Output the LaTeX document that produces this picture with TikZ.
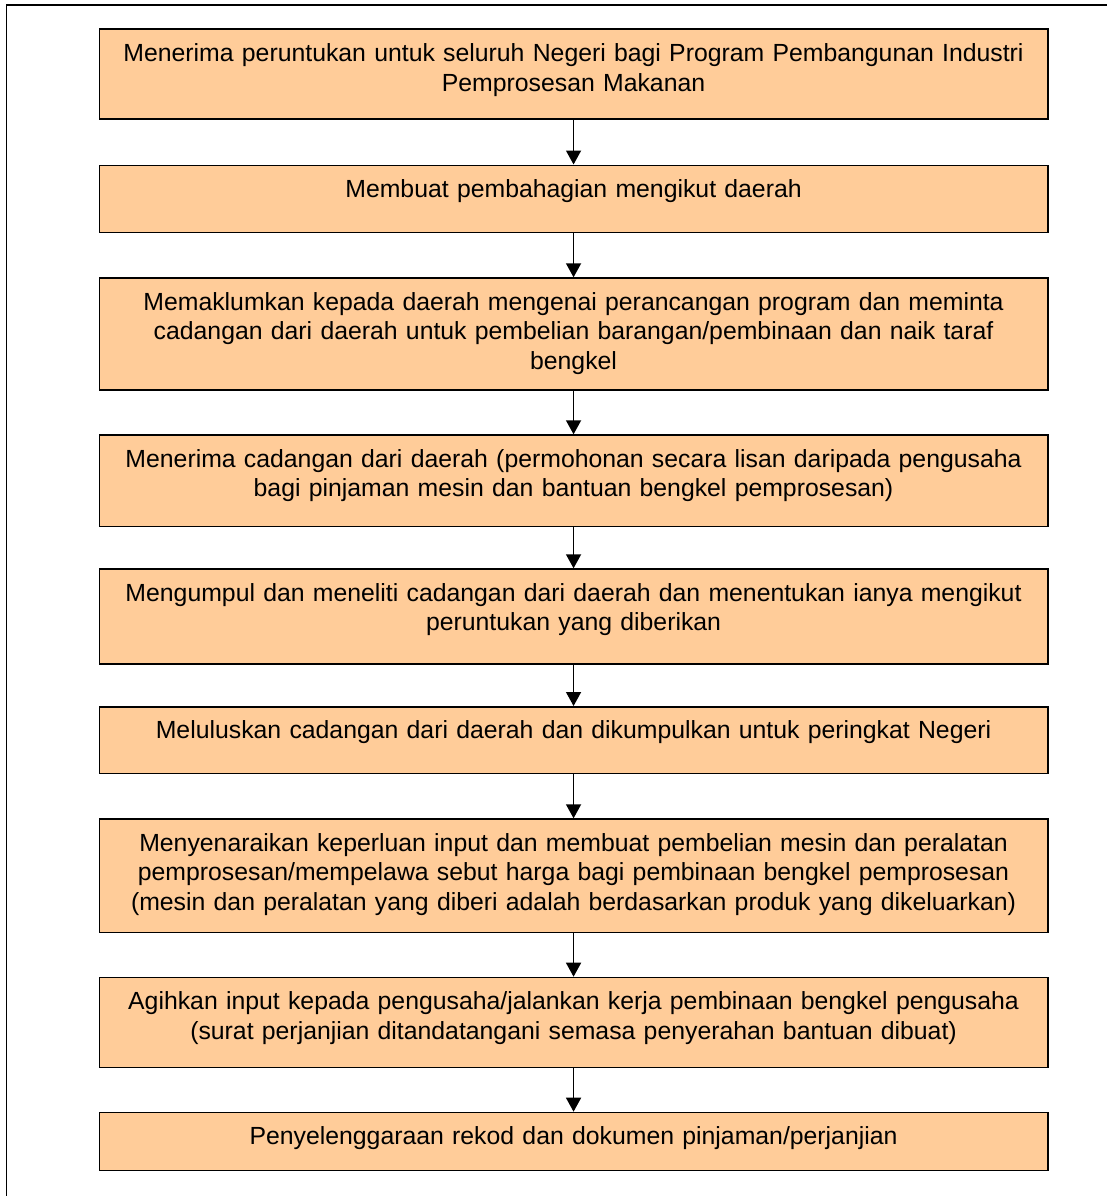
\documentclass[tikz,border=0pt]{standalone}
\usepackage{fontspec}
\setmainfont{Liberation Sans}
\usepackage{xcolor}
\usetikzlibrary{arrows.meta}
\definecolor{peach}{RGB}{255,204,153}

\begin{document}
\begin{tikzpicture}
		[
		x=1pt, y=-1pt,
		font=\fontsize{24.8}{29.8}\selectfont
		]
		
		% Two node styles: box and its text
		\tikzstyle{step box}=[draw, line width=1.6pt, fill=peach, anchor=north west, inner sep=0, minimum width=948.5];
		\tikzstyle{step text}=[anchor=north, yshift=-11.8pt, inner sep=0, text width=930, align=center, execute at begin node=\strut];
		\tikzstyle{flow}=[line width=1.5pt, -{Triangle[width=15pt,length=14pt]}];
		
		\useasboundingbox (0,0) rectangle (1107,1196);
		
		% Page frame
		\draw[line width=1.5pt] (6.5,1196) -- (6.5,5) -- (1107,5);
		
		% The boxes
		\node(s1)[step box, minimum height=90]at(98.5,28.5){};
		\node(s2)[step box, minimum height=67.2]at(98.5,164.5){};
		\node(s3)[step box, minimum height=111.7]at(98.5,277.3){};
		\node(s4)[step box, minimum height=91.4]at(98.5,434.3){};
		\node(s5)[step box, minimum height=95]at(98.5,568.3){};
		\node(s6)[step box, minimum height=66.7]at(98.5,706){};
		\node(s7)[step box, minimum height=113.4]at(98.5,818.3){};
		\node(s8)[step box, minimum height=90]at(98.5,976.7){};
		\node(s9)[step box, minimum height=57.8]at(98.5,1111.7){};
		
		% Texts
		\node(t1)[step text]at(s1.north){Menerima peruntukan untuk seluruh Negeri bagi Program Pembangunan Industri\\ Pemprosesan Makanan};
		\node(t2)[step text]at(s2.north){Membuat pembahagian mengikut daerah};
		\node(t3)[step text]at(s3.north){Memaklumkan kepada daerah mengenai perancangan program dan meminta\\ cadangan dari daerah untuk pembelian barangan/pembinaan dan naik taraf\\ bengkel};
		\node(t4)[step text]at(s4.north){Menerima cadangan dari daerah (permohonan secara lisan daripada pengusaha\\ bagi pinjaman mesin dan bantuan bengkel pemprosesan)};
		\node(t5)[step text]at(s5.north){Mengumpul dan meneliti cadangan dari daerah dan menentukan ianya mengikut\\ peruntukan yang diberikan};
		\node(t6)[step text]at(s6.north){Meluluskan cadangan dari daerah dan dikumpulkan untuk peringkat Negeri};
		\node(t7)[step text]at(s7.north){Menyenaraikan keperluan input dan membuat pembelian mesin dan peralatan\\ pemprosesan/mempelawa sebut harga bagi pembinaan bengkel pemprosesan\\ (mesin dan peralatan yang diberi adalah berdasarkan produk yang dikeluarkan)};
		\node(t8)[step text]at(s8.north){Agihkan input kepada pengusaha/jalankan kerja pembinaan bengkel pengusaha\\ (surat perjanjian ditandatangani semasa penyerahan bantuan dibuat)};
		\node(t9)[step text]at(s9.north){Penyelenggaraan rekod dan dokumen pinjaman/perjanjian};
		
		% Arrows
		\foreach \a/\b in {s1/s2, s2/s3, s3/s4, s4/s5, s5/s6, s6/s7, s7/s8, s8/s9}
		\draw[flow](\a.south)--(\b.north);
		
\end{tikzpicture}
\end{document}
